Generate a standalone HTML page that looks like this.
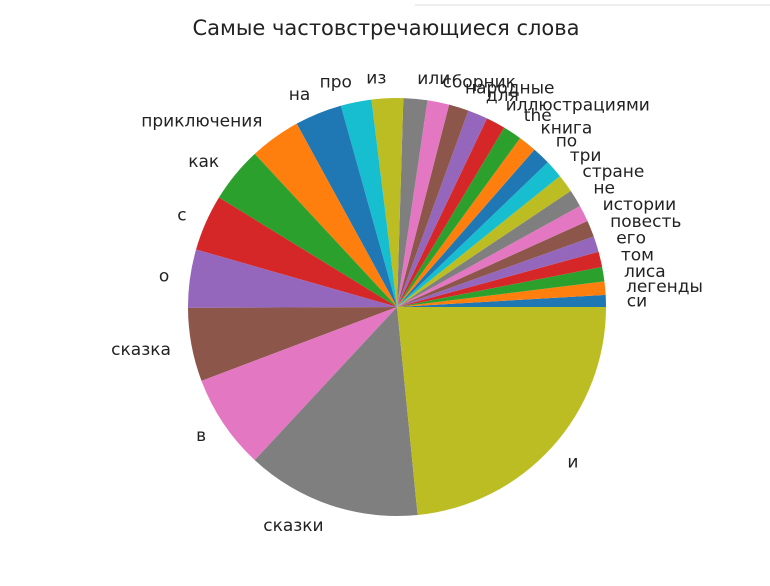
<!DOCTYPE html>
<html><head><meta charset="utf-8"><style>
body{margin:0;background:#fff}
svg text{font-family:"DejaVu Sans","Liberation Sans",sans-serif;fill:#222}
</style></head><body>
<svg id="chart" width="770" height="581" viewBox="0 0 770 581">
<line x1="415" y1="5" x2="770" y2="5" stroke="#ddd" stroke-width="1"/>
<text x="386" y="35" font-size="21" text-anchor="middle">Самые частовстречающиеся слова</text>
<g id="slices"></g><g id="labels"></g>
</svg>
<script>
const categories=["си","легенды","лиса","том","его","повесть","истории","не","стране","три","по","книга","the","иллюстрациями","для","народные","сборник","или","из","про","на","приключения","как","с","о","сказка","в","сказки","и"];
const values=[3.3,3.7,4,4.2,4.4,4.5,4.6,4.8,5,5,5,5,5.2,5.3,5.5,5.5,6,6.6,8.7,8.5,13,14.1,15.4,15.5,16.1,20.3,26.2,48.2,83.7];
const colors=["#1f77b4","#ff7f0e","#2ca02c","#d62728","#9467bd","#8c564b","#e377c2","#7f7f7f","#bcbd22","#17becf"];
const cx=397,cy=307,R=209;
const total=values.reduce((a,b)=>a+b,0);
const ns="http://www.w3.org/2000/svg";
const gS=document.getElementById("slices"),gL=document.getElementById("labels");
let a0=0;
values.forEach((v,i)=>{
  const a1=a0+v/total*2*Math.PI;
  const x0=cx+R*Math.cos(a0),y0=cy-R*Math.sin(a0),x1=cx+R*Math.cos(a1),y1=cy-R*Math.sin(a1);
  const large=(a1-a0)>Math.PI?1:0;
  const p=document.createElementNS(ns,"path");
  p.setAttribute("d",`M${cx},${cy}L${x0},${y0}A${R},${R} 0 ${large} 0 ${x1},${y1}Z`);
  p.setAttribute("fill",colors[i%10]);
  
  
  gS.appendChild(p);
  const am=(a0+a1)/2;
  const lx=cx+1.1*R*Math.cos(am),ly=cy-1.1*R*Math.sin(am);
  const t=document.createElementNS(ns,"text");
  t.setAttribute("x",lx);t.setAttribute("y",ly+6);
  t.setAttribute("font-size","17");
  t.setAttribute("text-anchor",Math.cos(am)>=0?"start":"end");
  t.textContent=categories[i];
  
  
  gL.appendChild(t);
  a0=a1;
});
</script>
</body></html>
